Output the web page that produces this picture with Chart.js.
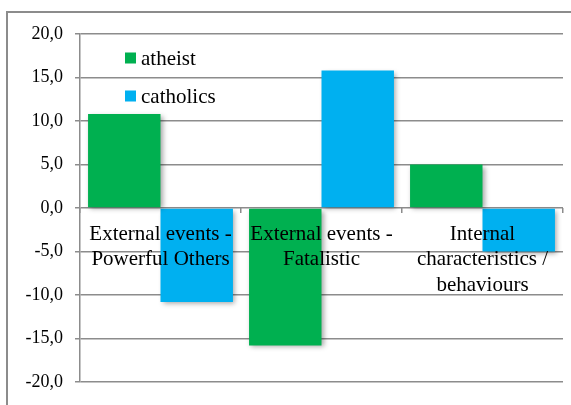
<!DOCTYPE html>
<html><head><meta charset="utf-8">
<script src="https://cdn.jsdelivr.net/npm/chart.js@4"></script>
<style>html,body{margin:0;padding:0;background:#fff;font-family:"Liberation Serif",serif;}#wrap{position:relative;width:571px;height:405px;}</style>
</head><body><div id="wrap"><canvas id="c" width="571" height="405"></canvas></div>
<script>
const categories = [['External events -','Powerful Others'],['External events -','Fatalistic'],['Internal','characteristics /','behaviours']];
const seriesNames = ['atheist','catholics'];
const atheistValues = [10.8, -15.8, 5.0];
const catholicsValues = [-10.8, 15.8, -5.0];
const seriesColors = ['#00B050','#00B0F0'];
const yMin = -20, yMax = 20, yStep = 5;

const gridColor = '#8c8c8c';
const serif = 'Liberation Serif, Tinos, Times New Roman, DejaVu Serif, serif';
Chart.defaults.font.family = serif;

const framePlugin = {
  id: 'frame',
  beforeDraw(chart) {
    const ctx = chart.ctx;
    ctx.save();
    ctx.strokeStyle = gridColor;
    ctx.lineWidth = 2;
    ctx.beginPath();
    ctx.moveTo(7, chart.height);
    ctx.lineTo(7, 12);
    ctx.lineTo(chart.width, 12);
    ctx.stroke();
    ctx.restore();
  }
};
const shadowPlugin = {
  id: 'barShadow',
  beforeDatasetsDraw(chart) {
    const ctx = chart.ctx;
    ctx.save();
    ctx.shadowColor = 'rgba(0,0,0,0.35)';
    ctx.shadowBlur = 5;
    ctx.shadowOffsetX = 2;
    ctx.shadowOffsetY = 2;
  },
  afterDatasetsDraw(chart) { chart.ctx.restore(); }
};
const legendPlugin = {
  id: 'insideLegend',
  afterDraw(chart) {
    const ctx = chart.ctx, a = chart.chartArea;
    ctx.save();
    ctx.font = '21px ' + serif;
    ctx.textBaseline = 'middle';
    ctx.textAlign = 'left';
    chart.data.datasets.forEach((ds, i) => {
      const y = a.top + 24 + i * 38;
      ctx.fillStyle = ds.backgroundColor;
      ctx.fillRect(a.left + 45, y - 5.5, 11, 11);
      ctx.fillStyle = '#000';
      ctx.fillText(ds.label, a.left + 61, y + 1);
    });
    ctx.restore();
  }
};

new Chart(document.getElementById('c'), {
  type: 'bar',
  data: {
    labels: categories,
    datasets: [
      { label: seriesNames[0], data: atheistValues, backgroundColor: seriesColors[0], borderWidth: 0 },
      { label: seriesNames[1], data: catholicsValues, backgroundColor: seriesColors[1], borderWidth: 0 }
    ]
  },
  plugins: [framePlugin, shadowPlugin, legendPlugin],
  options: {
    responsive: false,
    animation: false,
    devicePixelRatio: 1,
    categoryPercentage: 0.9,
    barPercentage: 1.0,
    layout: { padding: { top: 34, bottom: 23, right: 8, left: 0 } },
    plugins: { legend: { display: false }, tooltip: { enabled: false } },
    scales: {
      x: {
        type: 'category',
        position: { y: 0 },
        offset: true,
        grid: { display: true, drawOnChartArea: false, drawTicks: true, tickLength: 5, color: gridColor, lineWidth: 1.5 },
        border: { display: false },
        ticks: { z: 1, font: { family: serif, size: 21, lineHeight: 1.2 }, color: '#000', padding: 9, maxRotation: 0, minRotation: 0, autoSkip: false },
        afterFit(s) { s.height = 0; }
      },
      y: {
        min: yMin, max: yMax,
        ticks: {
          stepSize: yStep,
          font: { family: serif, size: 18 },
          color: '#000',
          padding: 12,
          callback: v => v.toFixed(1).replace('.', ',')
        },
        grid: { color: gridColor, lineWidth: 1.5, tickLength: 5 },
        border: { color: gridColor, width: 1.5 },
        afterFit(s) { s.width = 80; }
      }
    }
  }
});
</script>
</body></html>
